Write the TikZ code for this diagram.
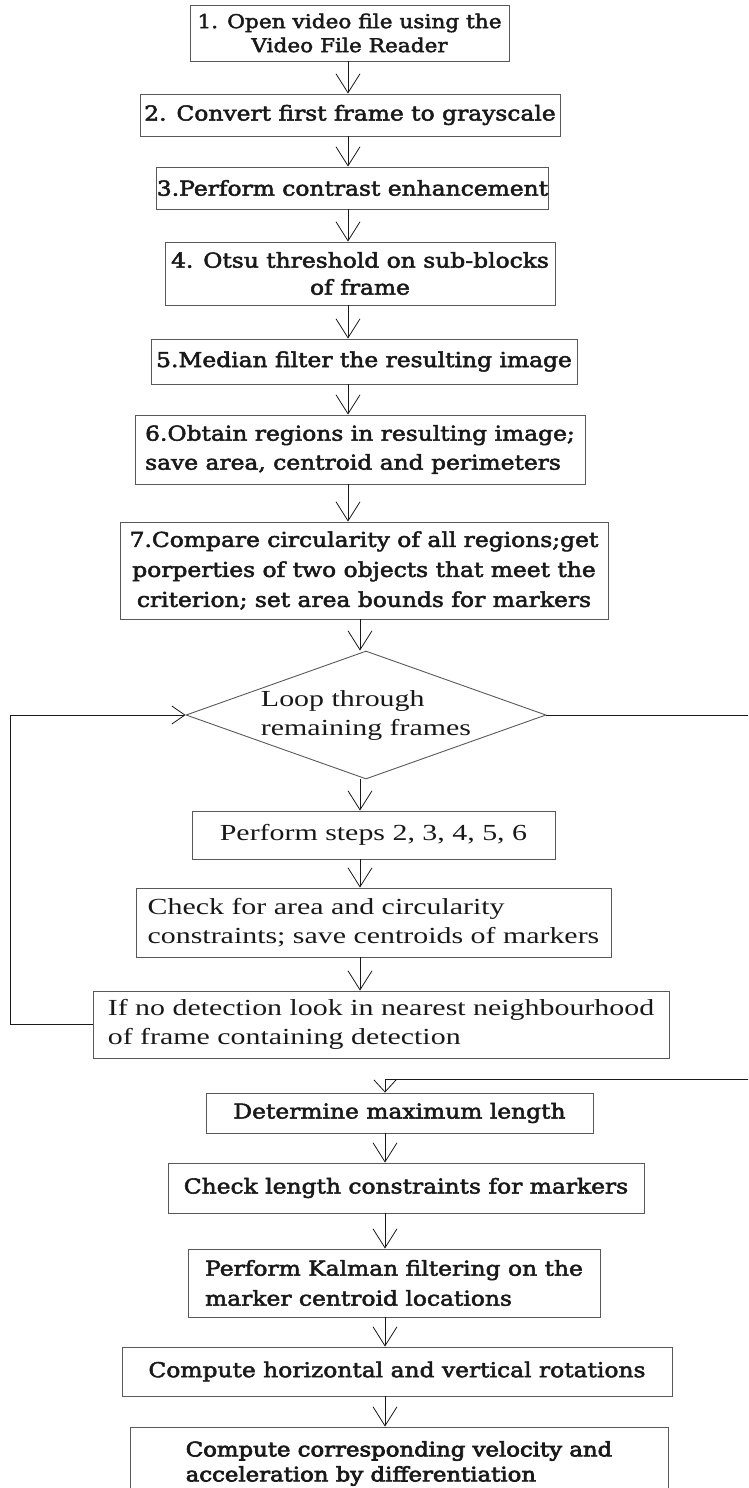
\documentclass[tikz,border=0pt]{standalone}
\usepackage{fontspec}
\setmainfont{Liberation Serif}
\newfontfamily\tnr[FakeStretch=1.3]{Liberation Serif}
\newfontfamily\csb[FakeStretch=1.14,FakeBold=2.5]{DejaVu Serif}
\newfontfamily\csbk[FakeStretch=1.14,FakeBold=3.5]{DejaVu Serif}
\usetikzlibrary{arrows.meta,shapes.geometric}
\definecolor{boxline}{gray}{0.35}
\definecolor{ink}{gray}{0.1}
\tikzset{
  box/.style={draw=boxline, line width=0.9pt, rectangle, inner sep=0pt, text=ink},
  wide/.style={font={\csb\fontsize{20.5}{#1}\selectfont}},
  times/.style={font={\tnr\fontsize{23}{29}\selectfont}},
  arr/.style={draw=ink, line width=0.8pt, -{Straight Barb[length=19pt,width=24pt]}},
  looparr/.style={draw=ink, line width=0.8pt, -{Straight Barb[length=13pt,width=18pt]}},
  joinarr/.style={draw=ink, line width=0.8pt, -{Straight Barb[length=12pt,width=22pt]}}
}
\begin{document}
\begin{tikzpicture}[x=1pt,y=-1pt]
\useasboundingbox (0,0) rectangle (748,1488);
\clip (0,0) rectangle (748,1488);

% columns used by the vertical connectors
\coordinate (colA) at (348,0);
\coordinate (colB) at (360,0);
\coordinate (colC) at (385,0);
\coordinate (lx) at (10,0);
\coordinate (rx) at (760,0);
\coordinate (rj) at (385,1079);

% set-up steps on the first frame
\node[box, font={\csb\fontsize{19}{24}\selectfont}, align=center, minimum width=319pt, minimum height=56pt] (b1) at (349.5,33) {1. Open video file using the\\Video File Reader};
\node[box, wide=29, align=center, minimum width=420pt, minimum height=42pt] (b2) at (350,115) {2. Convert first frame to grayscale};
\node[box, wide=29, align=center, minimum width=389pt, minimum height=42pt] (b3) at (352.5,188) {3.Perform contrast enhancement};
\node[box, wide=27, align=center, minimum width=390pt, minimum height=63pt] (b4) at (360,273.5) {4. Otsu threshold on sub-blocks\\of frame};
\node[box, wide=29, align=center, minimum width=426pt, minimum height=45pt] (b5) at (364,361.5) {5.Median filter the resulting image};
\node[box, wide=29, align=left, minimum width=450pt, minimum height=69pt] (b6) at (360,449.5) {6.Obtain regions in resulting image;\\save area, centroid and perimeters};
\node[box, wide=30, align=center, minimum width=488pt, minimum height=97pt] (b7) at (364,570.5) {7.Compare circularity of all regions;get\\porperties of two objects that meet the\\criterion; set area bounds for markers};

% frame loop
\node[diamond, shape aspect=2.8, draw=boxline, line width=0.9pt, inner sep=0pt, text=ink, times, align=left, minimum width=360pt, minimum height=128pt] (dia) at (366,715) {Loop through\\remaining frames};
\node[box, times, align=center, minimum width=363pt, minimum height=48pt] (b8) at (373.5,835) {Perform steps 2, 3, 4, 5, 6};
\node[box, times, align=left, minimum width=475pt, minimum height=69pt] (b9) at (373.5,922.5) {Check for area and circularity\\constraints; save centroids of markers};
\node[box, times, align=left, minimum width=576pt, minimum height=67pt] (b10) at (381,1024.5) {If no detection look in nearest neighbourhood\\of frame containing detection};

% post-processing
\node[box, wide=29, align=center, minimum width=387pt, minimum height=40pt] (b11) at (399.5,1113) {Determine maximum length};
\node[box, wide=29, align=center, minimum width=476pt, minimum height=50pt] (b12) at (406,1188) {Check length constraints for markers};
\node[box, wide=30, align=left, minimum width=412pt, minimum height=68pt] (b13) at (394,1283) {Perform Kalman filtering on the\\marker centroid locations};
\node[box, wide=29, align=center, minimum width=550pt, minimum height=49pt] (b14) at (397,1371.5) {Compute horizontal and vertical rotations};
\node[box, font={\csbk\fontsize{20}{25}\selectfont}, align=left, minimum width=538pt, minimum height=73pt] (b15) at (399,1463.5) {Compute corresponding velocity and\\acceleration by differentiation};

% connectors
\draw[arr] (b1.south -| colA) -- (b2.north -| colA);
\draw[arr] (b2.south -| colA) -- (b3.north -| colA);
\draw[arr] (b3.south -| colA) -- (b4.north -| colA);
\draw[arr] (b4.south -| colA) -- (b5.north -| colA);
\draw[arr] (b5.south -| colA) -- (b6.north -| colA);
\draw[arr] (b6.south -| colA) -- (b7.north -| colA);
\draw[arr] (b7.south -| colB) -- (dia.north -| colB);
\draw[arr] (dia.south -| colB) -- (b8.north -| colB);
\draw[arr] (b8.south -| colB) -- (b9.north -| colB);
\draw[arr] (b9.south -| colB) -- (b10.north -| colB);
\draw[looparr] (b10.west) -- (b10.west -| lx) -- (dia.west -| lx) -- (dia.west);
\draw[ink, line width=0.8pt] (dia.east) -- (dia.east -| rx) -- (rj -| rx) -- (rj);
\draw[joinarr] (rj) -- (b11.north -| rj);
\draw[arr] (b11.south -| colC) -- (b12.north -| colC);
\draw[arr] (b12.south -| colC) -- (b13.north -| colC);
\draw[arr] (b13.south -| colC) -- (b14.north -| colC);
\draw[arr] (b14.south -| colC) -- (b15.north -| colC);
\end{tikzpicture}
\end{document}
